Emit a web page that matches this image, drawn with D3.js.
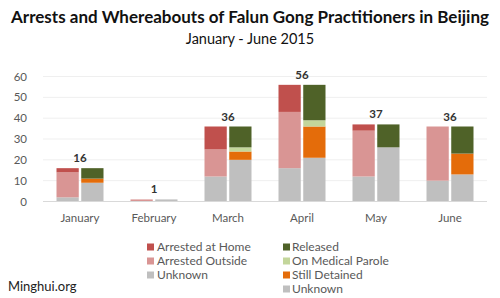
<!DOCTYPE html>
<html>
<head>
<meta charset="utf-8">
<script src="https://cdn.jsdelivr.net/npm/d3@7"></script>
<style>
  body { margin: 0; background: #fff; }
  svg { display: block; font-family: Lato, "Open Sans", sans-serif; }
</style>
</head>
<body>
<svg id="chart" width="500" height="298"></svg>
<script>
// months on the x axis
const months = ['January', 'February', 'March', 'April', 'May', 'June'];

// left bar of each month: arrests
const arrestedAtHome = [2, 0, 11, 13, 3, 0];
const arrestedOutside = [12, 1, 13, 27, 22, 26];
const arrestUnknown = [2, 0, 12, 16, 12, 10];

// right bar of each month: whereabouts
const released = [5, 0, 10, 17, 11, 13];
const medicalParole = [0, 0, 2, 3, 0, 0];
const stillDetained = [2, 0, 4, 15, 0, 10];
const whereUnknown = [9, 1, 20, 21, 26, 13];

const yTicks = [0, 10, 20, 30, 40, 50, 60];

// stacks, bottom to top
const arrestSeries = [
  { name: 'Unknown', values: arrestUnknown, color: '#bfbfbf' },
  { name: 'Arrested Outside', values: arrestedOutside, color: '#d99594' },
  { name: 'Arrested at Home', values: arrestedAtHome, color: '#c0504d' }
];
const whereSeries = [
  { name: 'Unknown', values: whereUnknown, color: '#bfbfbf' },
  { name: 'Still Detained', values: stillDetained, color: '#e46c0a' },
  { name: 'On Medical Parole', values: medicalParole, color: '#c3d69b' },
  { name: 'Released', values: released, color: '#4f6228' }
];

const svg = d3.select('#chart');
const margin = { left: 43, right: 13, top: 76.5, bottom: 96.5 };
const width = 500 - margin.left - margin.right;
const height = 298 - margin.top - margin.bottom;

svg.append('text')
  .attr('x', 250).attr('y', 23)
  .attr('text-anchor', 'middle')
  .attr('font-weight', 'bold')
  .attr('font-size', 17)
  .attr('fill', '#111')
  .text('Arrests and Whereabouts of Falun Gong Practitioners in Beijing');

svg.append('text')
  .attr('x', 250).attr('y', 44)
  .attr('text-anchor', 'middle')
  .attr('font-size', 14.5)
  .attr('fill', '#111')
  .text('January - June 2015');

const g = svg.append('g').attr('transform', `translate(${margin.left},${margin.top})`);

const x0 = d3.scaleBand().domain(months).range([0, width]);
const x1 = d3.scaleBand().domain(['arrest', 'where'])
  .range([13.5, x0.bandwidth() - 13.5]).paddingInner(0.1);
const y = d3.scaleLinear().domain([0, 60]).range([height, 0]);

// gridlines
g.append('g')
  .selectAll('line')
  .data(yTicks.slice(1))
  .join('line')
  .attr('x1', 0).attr('x2', width)
  .attr('y1', d => y(d)).attr('y2', d => y(d))
  .attr('stroke', '#efefef');

// y labels
g.append('g')
  .selectAll('text')
  .data(yTicks)
  .join('text')
  .attr('x', -16)
  .attr('y', d => y(d))
  .attr('dy', '0.35em')
  .attr('text-anchor', 'end')
  .attr('font-size', 11.5)
  .attr('fill', '#595959')
  .text(d => d);

function drawStack(series, key) {
  const stacked = d3.stack().keys(series.map((s, i) => i))
    (months.map((m, j) => series.map(s => s.values[j])));
  g.append('g')
    .selectAll('g')
    .data(stacked)
    .join('g')
    .attr('fill', (d, i) => series[i].color)
    .selectAll('rect')
    .data(d => d.map((p, j) => ({ p, j })))
    .join('rect')
    .attr('x', d => x0(months[d.j]) + x1(key))
    .attr('width', x1.bandwidth())
    .attr('y', d => y(d.p[1]))
    .attr('height', d => y(d.p[0]) - y(d.p[1]));
}
drawStack(arrestSeries, 'arrest');
drawStack(whereSeries, 'where');

// baseline
g.append('line')
  .attr('x1', 0).attr('x2', width)
  .attr('y1', y(0)).attr('y2', y(0))
  .attr('stroke', '#d9d9d9');

// totals
const totals = months.map((m, j) => d3.sum(arrestSeries, s => s.values[j]));
g.append('g')
  .selectAll('text')
  .data(totals)
  .join('text')
  .attr('x', (d, j) => x0(months[j]) + x0.bandwidth() / 2)
  .attr('y', d => y(d) - 6)
  .attr('text-anchor', 'middle')
  .attr('font-weight', 'bold')
  .attr('font-size', 11.5)
  .attr('fill', '#333')
  .text(d => d);

// month labels
g.append('g')
  .selectAll('text')
  .data(months)
  .join('text')
  .attr('x', d => x0(d) + x0.bandwidth() / 2)
  .attr('y', y(0) + 20)
  .attr('text-anchor', 'middle')
  .attr('font-size', 11.5)
  .attr('fill', '#595959')
  .text(d => d);

// legend
const legendCols = [
  { x: 147, items: arrestSeries.slice().reverse() },
  { x: 283, items: whereSeries.slice().reverse() }
];
legendCols.forEach(col => {
  const lg = svg.append('g').attr('transform', `translate(${col.x},247)`);
  const row = lg.selectAll('g')
    .data(col.items)
    .join('g')
    .attr('transform', (d, i) => `translate(0,${i * 14})`);
  row.append('rect')
    .attr('x', 0).attr('y', -3.5)
    .attr('width', 7).attr('height', 7)
    .attr('fill', d => d.color);
  row.append('text')
    .attr('x', col.x < 200 ? 10 : 9)
    .attr('dy', '0.35em')
    .attr('font-size', 12)
    .attr('fill', '#595959')
    .text(d => d.name);
});

svg.append('text')
  .attr('x', 8).attr('y', 291)
  .attr('font-size', 13)
  .attr('fill', '#222')
  .text('Minghui.org');
</script>
</body>
</html>
